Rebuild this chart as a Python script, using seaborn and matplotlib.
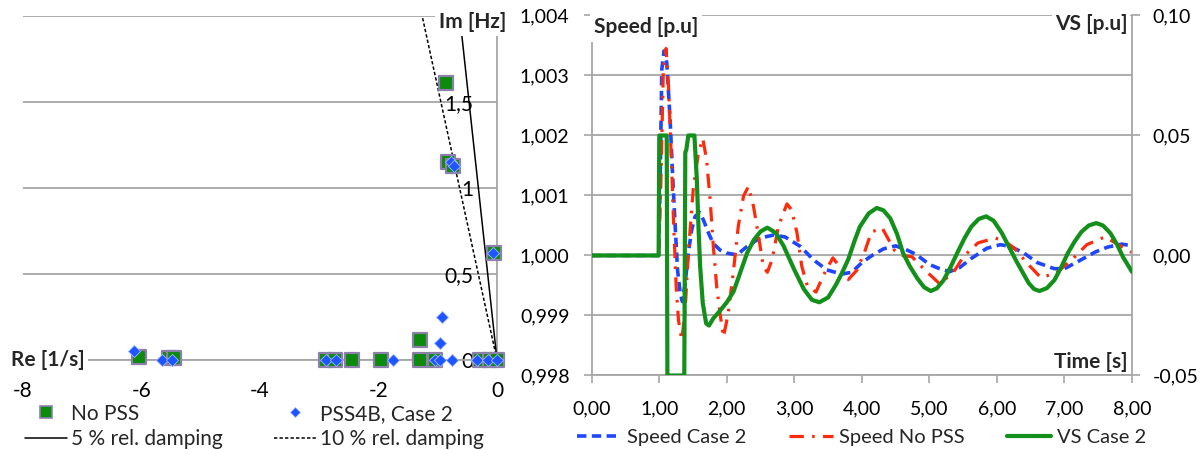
import matplotlib
matplotlib.use("Agg")
import numpy as np
import pandas as pd
import matplotlib.pyplot as plt
import seaborn as sns
from matplotlib.ticker import FuncFormatter, FixedLocator
from matplotlib.lines import Line2D

# ---------------------------------------------------------------
# Eigenvalues: real part [1/s], imaginary part [Hz]
# ---------------------------------------------------------------
nopss_re = [-6.05, -5.53, -5.45, -2.88, -2.74, -2.44, -1.95, -1.30, -1.30, -1.05,
            -0.86, -0.83, -0.75, -0.29, -0.12, -0.05, 0.0]
nopss_im = [0.02, 0.01, 0.01, 0.0, 0.0, 0.0, 0.0, 0.116, 0.0, 0.0,
            1.61, 1.15, 1.13, 0.0, 0.0, 0.62, 0.0]

pss_re = [-6.12, -5.65, -5.48, -2.88, -2.71, -1.76, -1.05, -0.96, -0.76, -0.34,
          -0.15, 0.0, -0.93, -0.96, -0.78, -0.73, -0.07]
pss_im = [0.05, 0.0, 0.0, 0.0, 0.0, 0.0, 0.0, 0.0, 0.0, 0.0,
          0.0, 0.0, 0.25, 0.10, 1.15, 1.13, 0.62]

# relative damping reference lines
damping_ratios = [0.05, 0.10]
damping_freq = [0.0, 2.0]

# ---------------------------------------------------------------
# Time responses
# ---------------------------------------------------------------
t_speed_case2 = [0.00, 0.99, 1.012, 1.037, 1.07, 1.11, 1.16, 1.20, 1.235, 1.27,
                 1.31, 1.343, 1.383, 1.43, 1.48, 1.53, 1.595, 1.654, 1.73, 1.80,
                 1.90, 2.00, 2.15, 2.30, 2.49, 2.69, 2.86, 3.09, 3.28, 3.48,
                 3.70, 3.85, 4.00, 4.15, 4.32, 4.50, 4.65, 4.80, 5.00, 5.15,
                 5.30, 5.45, 5.62, 5.85, 6.05, 6.20, 6.40, 6.60, 6.85, 7.00,
                 7.20, 7.46, 7.64, 7.85, 8.00]
speed_case2 = [1.00000, 1.00000, 1.00115, 1.00310, 1.00341, 1.00322, 1.00227, 1.00127, 1.00049, 0.99976,
               0.99937, 0.99923, 0.99954, 1.00004, 1.00043, 1.00065, 1.00072, 1.00059, 1.00037, 1.00020,
               1.00009, 1.00004, 1.00001, 1.00015, 1.00029, 1.00034, 1.00031, 1.00015, 0.99993, 0.99976,
               0.99969, 0.99972, 0.99988, 1.00000, 1.00011, 1.00016, 1.00010, 1.00002, 0.99985, 0.99978,
               0.99973, 0.99980, 0.99995, 1.00012, 1.00018, 1.00015, 1.00004, 0.99988, 0.99978, 0.99978,
               0.99990, 1.00006, 1.00014, 1.00019, 1.00016]

t_speed_nopss = [0.00, 0.99, 1.022, 1.06, 1.10, 1.136, 1.175, 1.21, 1.25, 1.284,
                 1.333, 1.38, 1.43, 1.506, 1.58, 1.644, 1.70, 1.753, 1.80, 1.85,
                 1.90, 1.95, 2.02, 2.10, 2.17, 2.247, 2.32, 2.395, 2.47, 2.54,
                 2.60, 2.67, 2.765, 2.89, 2.96, 3.04, 3.11, 3.19, 3.32, 3.43,
                 3.57, 3.68, 3.80, 3.93, 4.05, 4.14, 4.30, 4.48, 4.60, 4.74,
                 4.95, 5.15, 5.35, 5.51, 5.72, 5.97, 6.10, 6.26, 6.44, 6.65,
                 6.88, 7.12, 7.33, 7.60, 7.86, 8.00]
speed_nopss = [1.00000, 1.00000, 1.00115, 1.00310, 1.00345, 1.00283, 1.00171, 1.00060, 0.99948, 0.99892,
               0.99859, 0.99904, 1.00004, 1.00115, 1.00171, 1.00195, 1.00160, 1.00093, 1.00015, 0.99948,
               0.99903, 0.99864, 0.99903, 0.99976, 1.00049, 1.00099, 1.00115, 1.00082, 1.00032, 0.99982,
               0.99972, 0.99993, 1.00049, 1.00086, 1.00076, 1.00037, 0.99982, 0.99950, 0.99939, 0.99967,
               0.99996, 0.99980, 0.99960, 0.99976, 1.00009, 1.00039, 1.00046, 1.00009, 1.00000, 0.99998,
               0.99974, 0.99953, 0.99971, 0.99999, 1.00021, 1.00029, 1.00025, 1.00012, 0.99988, 0.99963,
               0.99971, 0.99994, 1.00018, 1.00031, 1.00014, 1.00005]

t_vs_case2 = [0.00, 0.99, 1.00, 1.11, 1.12, 1.37, 1.385, 1.40, 1.43, 1.52,
              1.556, 1.58, 1.605, 1.644, 1.694, 1.735, 1.80, 1.90, 2.00, 2.10,
              2.20, 2.30, 2.40, 2.50, 2.60, 2.72, 2.84, 3.00, 3.14, 3.26,
              3.37, 3.50, 3.62, 3.71, 3.80, 3.89, 3.97, 4.10, 4.22, 4.32,
              4.42, 4.52, 4.61, 4.71, 4.82, 4.92, 5.02, 5.11, 5.21, 5.31,
              5.42, 5.52, 5.62, 5.73, 5.84, 5.95, 6.07, 6.18, 6.30, 6.47,
              6.55, 6.63, 6.74, 6.85, 6.95, 7.05, 7.15, 7.25, 7.36, 7.47,
              7.57, 7.68, 7.78, 7.87, 8.00]
vs_case2 = [0.0, 0.0, 0.05, 0.05, -0.05, -0.05, 0.043, 0.044, 0.05, 0.05,
            0.0317, 0.0121, -0.0046, -0.0199, -0.0283, -0.0292, -0.0262, -0.0230, -0.0195, -0.0150,
            -0.0070, 0.0010, 0.0065, 0.0100, 0.0116, 0.0095, 0.0040, -0.0060, -0.0140, -0.0185,
            -0.0195, -0.0175, -0.0120, -0.0070, -0.0015, 0.0060, 0.0120, 0.0175, 0.0198, 0.0188,
            0.0155, 0.0090, 0.0010, -0.0045, -0.0095, -0.0132, -0.0148, -0.0137, -0.0103, -0.0050,
            0.0015, 0.0072, 0.0120, 0.0152, 0.0163, 0.0145, 0.0095, 0.0035, -0.0030, -0.0115,
            -0.0140, -0.0148, -0.0136, -0.0103, -0.0050, 0.0010, 0.0058, 0.0098, 0.0125, 0.0135,
            0.0125, 0.0093, 0.0045, -0.0008, -0.0068]

# ---------------------------------------------------------------
# Style
# ---------------------------------------------------------------
sns.set_theme(style="white")
plt.rcParams["font.family"] = ["Lato", "DejaVu Sans"]
plt.rcParams["axes.unicode_minus"] = False

FS_L = 15          # eigenvalue panel text
FS_R = 14          # time-response tick labels
FS_LEG = 14.5      # time-response legend
FS_B = 15          # bold axis captions
GRID = "#a6a6a6"
SQ_FACE = "#0b8a0b"
SQ_EDGE = "#8c80aa"
DIA_FACE = "#1f55ff"
BLUE = "#1f45ff"
RED = "#ff2a0a"
GREEN = "#12901a"
DASH_BLUE = (0, (2.6, 1.5))
DASH_RED = (0, (4.5, 2.6, 0.8, 2.6))

fig = plt.figure(figsize=(12.04, 4.5), dpi=100)

# ---------------------------------------------------------------
# Left: eigenvalue plane
# ---------------------------------------------------------------
axL = fig.add_axes([0.0191, 0.2, 0.3937, 0.7644])
axL.set_xlim(-8, 0)
axL.set_ylim(0, 2)

for side in ["top", "right"]:
    axL.spines[side].set_visible(False)
axL.spines["left"].set_position(("data", 0))
axL.spines["left"].set_color(GRID)
axL.spines["left"].set_linewidth(1.3)
axL.spines["bottom"].set_color(GRID)
axL.spines["bottom"].set_linewidth(1.3)

axL.yaxis.set_major_locator(FixedLocator([0, 0.5, 1.0, 1.5, 2.0]))
axL.yaxis.set_major_formatter(FuncFormatter(
    lambda v, p: "" if v > 1.9 else ("0" if v == 0 else f"{v:g}".replace(".", ","))))
axL.xaxis.set_major_locator(FixedLocator([-8, -6, -4, -2, 0]))
axL.xaxis.set_major_formatter(FuncFormatter(lambda v, p: f"{v:.0f}".replace("−", "-")))
axL.grid(axis="y", color=GRID, linewidth=1.3)
axL.grid(axis="x", visible=False)
axL.tick_params(axis="y", length=0, pad=17, labelsize=FS_L, colors="black")
axL.tick_params(axis="x", length=5, width=1.2, color=GRID, pad=10, labelsize=FS_L,
                labelcolor="black", direction="out")
axL.set_xlabel("")
axL.set_ylabel("")

# damping lines: Re = -zeta / sqrt(1 - zeta^2) * 2*pi*f
freq = np.array(damping_freq)
for zeta, ls in zip(damping_ratios, ["-", (0, (2.2, 1.4))]):
    re_line = -zeta / np.sqrt(1 - zeta ** 2) * 2 * np.pi * freq
    sns.lineplot(x=re_line, y=freq, ax=axL, color="black", linewidth=1.1,
                 linestyle=ls, sort=False, estimator=None, zorder=3)

sns.scatterplot(x=nopss_re, y=nopss_im, ax=axL, marker="s", s=105,
                color=SQ_FACE, edgecolor=SQ_EDGE, linewidth=1.6,
                clip_on=False, zorder=4)
sns.scatterplot(x=pss_re, y=pss_im, ax=axL, marker="D", s=38,
                color=DIA_FACE, edgecolor="#9fb6ff", linewidth=0.6,
                clip_on=False, zorder=5)

axL.text(-8.2, 0.0, "Re [1/s]", fontsize=FS_B, fontweight="bold", ha="left", va="center",
         bbox=dict(facecolor="white", edgecolor="none", pad=2.5), zorder=6, clip_on=False)
axL.text(-0.98, 1.965, "Im [Hz]", fontsize=FS_B, fontweight="bold", ha="left", va="center",
         bbox=dict(facecolor="white", edgecolor="none", pad=3.0), zorder=6, clip_on=False)

hL = [Line2D([], [], marker="s", color=SQ_FACE, markeredgecolor=SQ_EDGE, markeredgewidth=1.2,
             markersize=8.5, linestyle="none"),
      Line2D([], [], color="black", linewidth=1.1),
      Line2D([], [], marker="D", color=DIA_FACE, markeredgecolor="#9fb6ff", markeredgewidth=0.5,
             markersize=5.5, linestyle="none"),
      Line2D([], [], color="black", linewidth=1.1, linestyle=(0, (2.2, 1.4)))]
lL = ["No PSS", "5 % rel. damping", "PSS4B, Case 2", "10 % rel. damping"]
fig.legend(hL, lL, ncol=2, loc="upper left", bbox_to_anchor=(0.021, 0.103),
           frameon=False, fontsize=FS_L, handlelength=2.0, handletextpad=0.2,
           columnspacing=2.45, labelspacing=0.25, borderpad=0, borderaxespad=0)

# ---------------------------------------------------------------
# Right: time responses
# ---------------------------------------------------------------
axR = fig.add_axes([0.4915, 0.1656, 0.4487, 0.8])
axR.set_xlim(0, 8)
axR.set_ylim(0.998, 1.004)
axR.yaxis.set_major_locator(FixedLocator([0.998, 0.999, 1.000, 1.001, 1.002, 1.003, 1.004]))
axR.yaxis.set_major_formatter(FuncFormatter(lambda v, p: f"{v:.3f}".replace(".", ",")))
axR.xaxis.set_major_locator(FixedLocator(list(range(9))))
axR.xaxis.set_major_formatter(FuncFormatter(lambda v, p: f"{v:.2f}".replace(".", ",")))
axR.grid(axis="y", color=GRID, linewidth=1.3)
axR.grid(axis="x", visible=False)
for side in ["top", "right"]:
    axR.spines[side].set_visible(False)
for side in ["left", "bottom"]:
    axR.spines[side].set_color(GRID)
    axR.spines[side].set_linewidth(1.3)
axR.tick_params(axis="y", length=6, width=1.2, color=GRID, pad=10, labelsize=FS_R,
                labelcolor="black", direction="out", left=True)
axR.tick_params(axis="x", length=6, width=1.2, color=GRID, pad=12, labelsize=FS_R,
                labelcolor="black", direction="out", bottom=True)

sns.lineplot(x=t_speed_case2, y=speed_case2, ax=axR, color=BLUE, linewidth=2.6,
             linestyle=DASH_BLUE, sort=False, estimator=None, legend=False, zorder=3)
sns.lineplot(x=t_speed_nopss, y=speed_nopss, ax=axR, color=RED, linewidth=2.3,
             linestyle=DASH_RED, sort=False, estimator=None, legend=False, zorder=4)
axR.set_xlabel("")
axR.set_ylabel("")

axV = axR.twinx()
axV.set_ylim(-0.05, 0.10)
axV.yaxis.set_major_locator(FixedLocator([-0.05, 0.0, 0.05, 0.10]))
axV.yaxis.set_major_formatter(FuncFormatter(
    lambda v, p: ("0,00" if abs(v) < 1e-9 else f"{v:.2f}".replace(".", ",").replace("−", "-"))))
for side in ["top", "left", "bottom"]:
    axV.spines[side].set_visible(False)
axV.spines["right"].set_color(GRID)
axV.spines["right"].set_linewidth(1.3)
axV.tick_params(axis="y", length=6, width=1.2, color=GRID, pad=9, labelsize=FS_R,
                labelcolor="black", direction="out", right=True)
axV.grid(False)
sns.lineplot(x=t_vs_case2, y=vs_case2, ax=axV, color=GREEN, linewidth=3.0,
             sort=False, estimator=None, legend=False, zorder=5)
axV.set_xlabel("")
axV.set_ylabel("")

axR.text(0.03, 1.0038, "Speed [p.u]", fontsize=FS_B, fontweight="bold", ha="left", va="center",
         bbox=dict(facecolor="white", edgecolor="none", pad=3), zorder=6)
axV.text(7.93, 0.0965, "VS [p.u]", fontsize=FS_B, fontweight="bold", ha="right", va="center",
         bbox=dict(facecolor="white", edgecolor="none", pad=2), zorder=6)
axV.text(7.94, -0.0445, "Time [s]", fontsize=FS_B, fontweight="bold", ha="right", va="center",
         zorder=6)

hR = [Line2D([], [], color=BLUE, linewidth=2.6, linestyle=DASH_BLUE),
      Line2D([], [], color=RED, linewidth=2.3, linestyle=DASH_RED),
      Line2D([], [], color=GREEN, linewidth=3.0)]
lR = ["Speed Case 2", "Speed No PSS", "VS Case 2"]
fig.legend(hR, lR, ncol=3, loc="center left", bbox_to_anchor=(0.479, 0.027),
           frameon=False, fontsize=FS_LEG, handlelength=2.2, handletextpad=0.3,
           columnspacing=2.1, borderpad=0, borderaxespad=0)

fig.savefig("out.png", dpi=100, facecolor="white")
